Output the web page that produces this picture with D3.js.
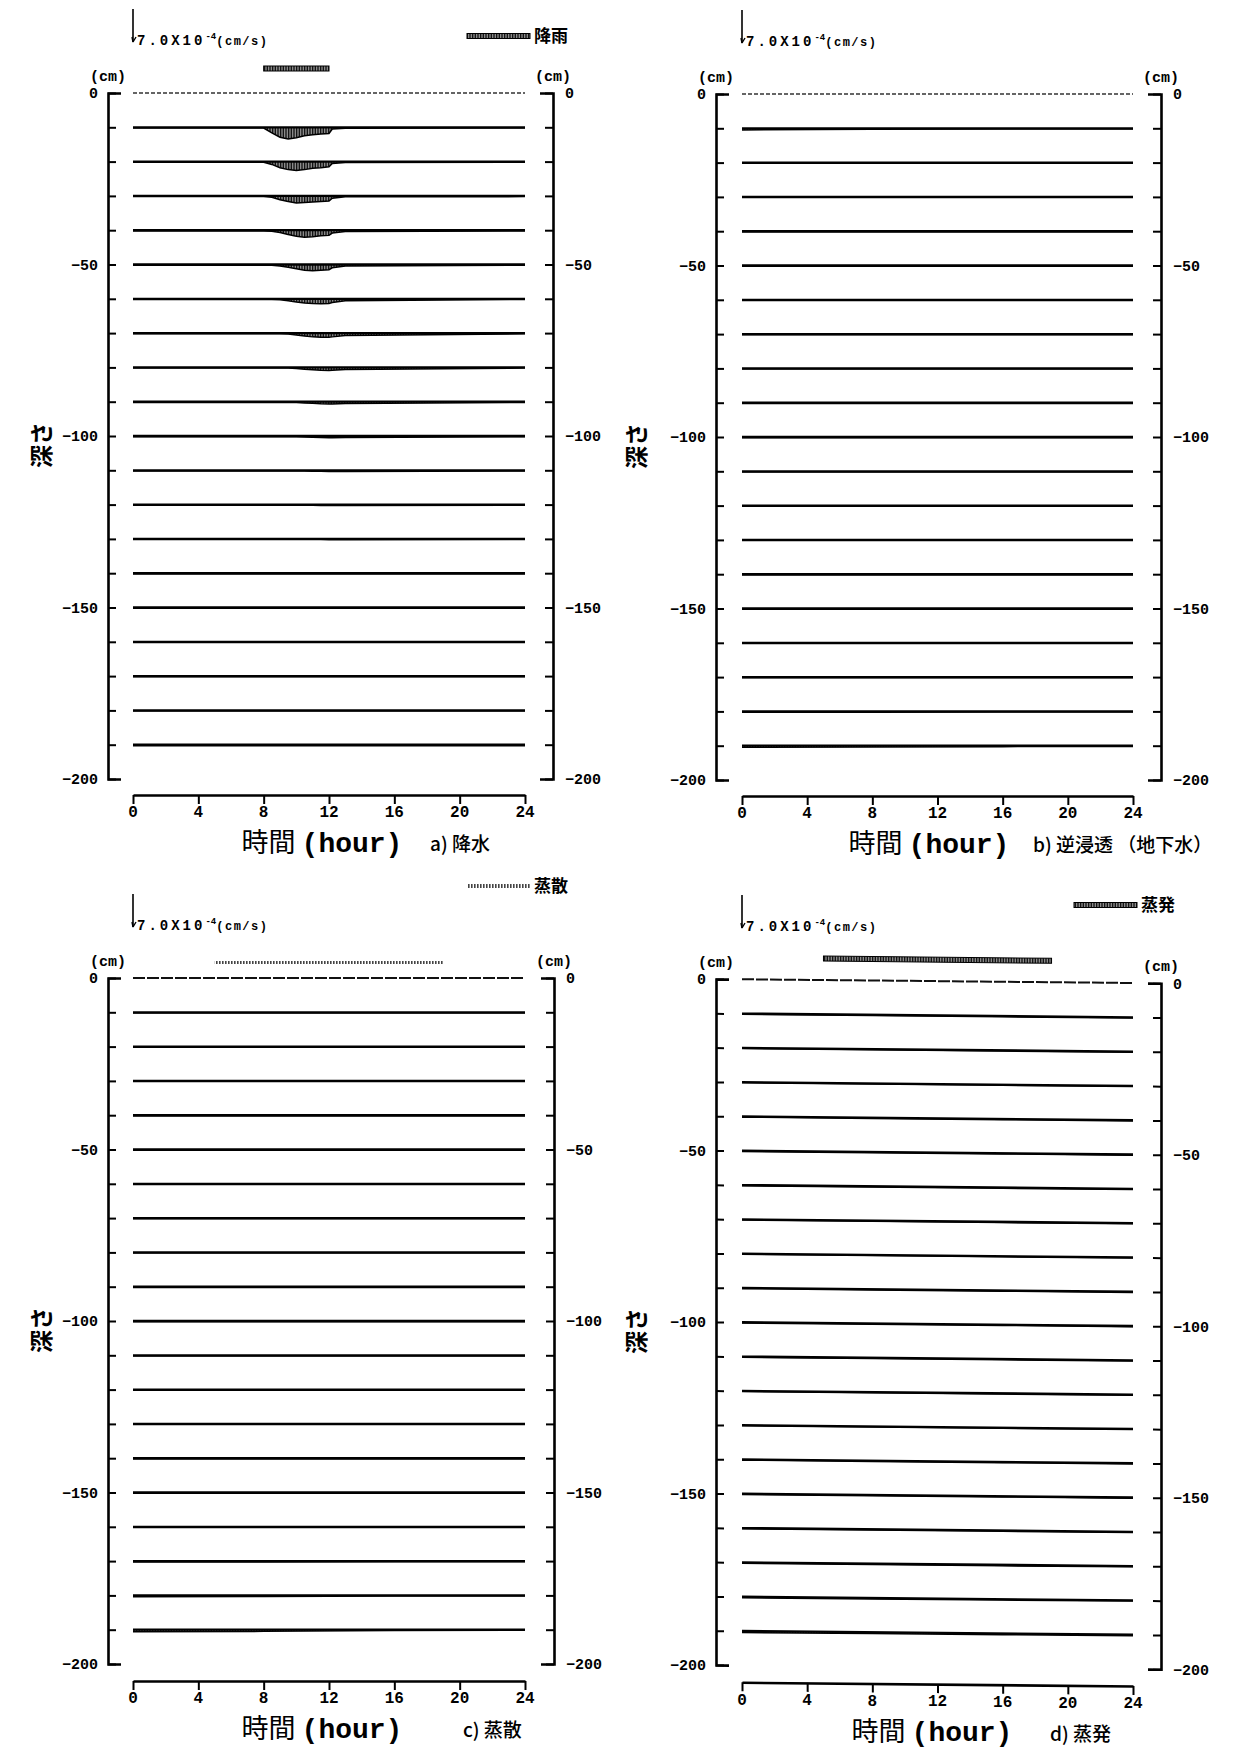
<!DOCTYPE html>
<html><head><meta charset="utf-8">
<script src="https://cdn.jsdelivr.net/npm/d3@7"></script>
<style>
body{margin:0;background:#fff;}
svg{display:block;}
</style></head><body>
<svg id="c" width="1233" height="1751"></svg>
<script>
// ---------------- data ----------------
const hourTicks = [0, 4, 8, 12, 16, 20, 24];
const depthLabels = [0, -50, -100, -150, -200];
const depthTicks = [0,-10,-20,-30,-40,-50,-60,-70,-80,-90,-100,-110,-120,-130,-140,-150,-160,-170,-180,-190,-200];
const depths = [-10,-20,-30,-40,-50,-60,-70,-80,-90,-100,-110,-120,-130,-140,-150,-160,-170,-180,-190];
const arrowScaleValue = 7.0; // ×10^-4 cm/s

// a) 降水 : vertical flux (×10^-4 cm/s) at each depth
const timesA = [0, 8, 8.5, 9, 9.5, 10, 10.5, 11, 11.5, 12, 12.2, 13, 24];
const fluxA = [
  [0.15,0.15,1.2,2.1,2.5,2.2,1.8,1.6,1.4,1.3,0.35,0.2,0.15],
  [0.15,0.15,0.6,1.3,1.7,1.9,1.7,1.4,1.3,1.1,0.4,0.2,0.15],
  [0.15,0.15,0.3,0.8,1.2,1.5,1.4,1.3,1.2,1.1,0.5,0.2,0.15],
  [0.15,0.15,0.2,0.5,0.9,1.3,1.5,1.4,1.2,1.1,0.6,0.3,0.15],
  [0.15,0.15,0.15,0.3,0.6,0.9,1.2,1.3,1.2,1.1,0.7,0.3,0.15],
  [0.15,0.15,0.15,0.2,0.4,0.7,0.9,1.0,1.05,1.0,0.8,0.4,0.15],
  [0.15,0.15,0.15,0.15,0.2,0.4,0.6,0.8,0.9,0.9,0.8,0.5,0.15],
  [0.15,0.15,0.15,0.15,0.15,0.25,0.4,0.5,0.6,0.65,0.6,0.45,0.15],
  [0.15,0.15,0.15,0.15,0.15,0.15,0.25,0.35,0.45,0.5,0.5,0.4,0.15],
  [0.15,0.15,0.15,0.15,0.15,0.15,0.2,0.25,0.3,0.35,0.35,0.3,0.15],
  [0.15,0.15,0.15,0.15,0.15,0.15,0.15,0.2,0.22,0.25,0.25,0.25,0.15],
  [0.15,0.15,0.15,0.15,0.15,0.15,0.15,0.15,0.18,0.2,0.2,0.2,0.15],
  [0.15,0.15,0.15,0.15,0.15,0.15,0.15,0.15,0.15,0.18,0.18,0.18,0.15],
  [0.15,0.15,0.15,0.15,0.15,0.15,0.15,0.15,0.15,0.15,0.15,0.15,0.15],
  [0.15,0.15,0.15,0.15,0.15,0.15,0.15,0.15,0.15,0.15,0.15,0.15,0.15],
  [0.15,0.15,0.15,0.15,0.15,0.15,0.15,0.15,0.15,0.15,0.15,0.15,0.15],
  [0.15,0.15,0.15,0.15,0.15,0.15,0.15,0.15,0.15,0.15,0.15,0.15,0.15],
  [0.15,0.15,0.15,0.15,0.15,0.15,0.15,0.15,0.15,0.15,0.15,0.15,0.15],
  [0.2,0.2,0.2,0.2,0.2,0.2,0.2,0.2,0.2,0.2,0.2,0.2,0.2]
];

// b) 逆浸透（地下水）, c) 蒸散, d) 蒸発
const timesBCD = [0, 8, 16, 24];
const fluxB = [
  [0.35,0.2,0.15,0.15],[0.15,0.15,0.15,0.15],[0.15,0.15,0.15,0.15],[0.15,0.15,0.15,0.15],
  [0.15,0.15,0.15,0.15],[0.15,0.15,0.15,0.15],[0.15,0.15,0.15,0.15],[0.15,0.15,0.15,0.15],
  [0.15,0.15,0.15,0.15],[0.15,0.15,0.15,0.15],[0.15,0.15,0.15,0.15],[0.15,0.15,0.15,0.15],
  [0.15,0.15,0.15,0.15],[0.15,0.15,0.15,0.15],[0.15,0.15,0.15,0.15],[0.15,0.15,0.15,0.15],
  [0.15,0.15,0.15,0.15],[0.2,0.2,0.15,0.15],[0.35,0.25,0.2,0.15]
];
const fluxC = [
  [0.15,0.15,0.15,0.15],[0.15,0.15,0.15,0.15],[0.15,0.15,0.15,0.15],[0.15,0.15,0.15,0.15],
  [0.15,0.15,0.15,0.15],[0.15,0.15,0.15,0.15],[0.15,0.15,0.15,0.15],[0.15,0.15,0.15,0.15],
  [0.15,0.15,0.15,0.15],[0.15,0.15,0.15,0.15],[0.15,0.15,0.15,0.15],[0.15,0.15,0.15,0.15],
  [0.15,0.15,0.15,0.15],[0.15,0.15,0.15,0.15],[0.15,0.15,0.15,0.15],[0.15,0.15,0.15,0.15],
  [0.2,0.2,0.15,0.15],[0.3,0.25,0.15,0.15],[0.45,0.35,0.15,0.1]
];
const fluxD = [
  [0.15,0.15,0.15,0.15],[0.15,0.15,0.15,0.15],[0.15,0.15,0.15,0.15],[0.15,0.15,0.15,0.15],
  [0.15,0.15,0.15,0.15],[0.15,0.15,0.15,0.15],[0.15,0.15,0.15,0.15],[0.15,0.15,0.15,0.15],
  [0.15,0.15,0.15,0.15],[0.15,0.15,0.15,0.15],[0.15,0.15,0.15,0.15],[0.15,0.15,0.15,0.15],
  [0.15,0.15,0.15,0.15],[0.15,0.15,0.15,0.15],[0.15,0.15,0.15,0.15],[0.15,0.15,0.15,0.15],
  [0.2,0.2,0.2,0.15],[0.25,0.25,0.2,0.15],[0.35,0.3,0.25,0.2]
];

// surface forcing periods (hours)
const rainPeriod = [8, 12];
const transpPeriod = [5, 19];
const evapPeriod = [5, 19];

// ---------------- drawing ----------------
const MONO = "'Liberation Mono','DejaVu Sans Mono',monospace";
const CJK = "'Noto Sans CJK JP','Noto Sans',sans-serif";
const svg = d3.select("#c");

const defs = svg.append("defs");
defs.append("pattern").attr("id","stip").attr("width",1.6).attr("height",2)
  .attr("patternUnits","userSpaceOnUse")
  .append("rect").attr("width",1.1).attr("height",2).attr("fill","#000");
defs.append("pattern").attr("id","stipLight").attr("width",3).attr("height",2)
  .attr("patternUnits","userSpaceOnUse")
  .append("rect").attr("width",1.6).attr("height",2).attr("fill","#444");
defs.append("clipPath").attr("id","clipD").append("rect")
  .attr("x",0).attr("y",0).attr("width",1212).attr("height",1751);

const fluxLen = d3.scaleLinear().domain([0, arrowScaleValue]).range([0, 33]);

const panels = [
  {x0:133, x1:525, lx:108, rx:553, yTop:93, yBot:779, xAxisY:795, times:timesA, flux:fluxA,
   zero:'dot', bar:rainPeriod, barDY:-27, barH:5, barFill:'url(#stip)', barStroke:'#000',
   legend:{text:'降雨', xa:467, xb:530, y:36, h:5, fill:'url(#stip)', stroke:'#000'},
   title:'a) 降水', titleX:430, titleC:322, ylabX:42, skew:0, clip:false},
  {x0:742, x1:1133, lx:716, rx:1161, yTop:94, yBot:780, xAxisY:796, times:timesBCD, flux:fluxB,
   zero:'dot', bar:null, legend:null,
   title:'b) 逆浸透 （地下水）', titleX:1033, titleC:929, ylabX:637, skew:0, clip:false},
  {x0:133, x1:525, lx:108, rx:554, yTop:978, yBot:1664, xAxisY:1681, times:timesBCD, flux:fluxC,
   zero:'dash', bar:transpPeriod, barDY:-17, barH:3, barFill:'url(#stipLight)', barStroke:'none',
   legend:{text:'蒸散', xa:467, xb:530, y:886, h:4, fill:'url(#stipLight)', stroke:'none'},
   title:'c) 蒸散', titleX:463, titleC:322, ylabX:42, skew:0, clip:false},
  {x0:742, x1:1133, lx:716, rx:1161, yTop:979, yBot:1665, xAxisY:1682, times:timesBCD, flux:fluxD,
   zero:'dash', bar:evapPeriod, barDY:-24, barH:5, barFill:'url(#stip)', barStroke:'#000',
   legend:{text:'蒸発', xa:1074, xb:1137, y:905, h:5, fill:'url(#stip)', stroke:'#000'},
   title:'d) 蒸発', titleX:1050, titleC:932, ylabX:637, skew:0.55, clip:true}
];

panels.forEach(p => {
  const x = d3.scaleLinear().domain([0, 24]).range([p.x0, p.x1]);
  const y = d3.scaleLinear().domain([0, -200]).range([p.yTop, p.yBot]);
  const tk = Math.tan(p.skew * Math.PI / 180);
  const sk = xp => (xp - p.lx) * tk;   // vertical offset of the scanned (tilted) panel

  const outer = svg.append("g");
  const g = outer.append("g")
    .attr("transform", p.skew ? `translate(${p.lx},0) skewY(${p.skew}) translate(${-p.lx},0)` : null);

  // depth 0 line
  g.append("line").attr("x1", x(0)).attr("x2", x(24)).attr("y1", y(0)).attr("y2", y(0))
    .attr("stroke", p.zero === 'dot' ? "#333" : "#111")
    .attr("stroke-width", p.zero === 'dot' ? 1.3 : 2)
    .attr("stroke-dasharray", p.zero === 'dot' ? "4,2" : "12,2");

  // flux lines at each depth
  depths.forEach((dep, i) => {
    const pts = p.times.map((t, k) => [t, p.flux[i][k]]);
    const area = d3.area().x(d => x(d[0])).y0(y(dep)).y1(d => y(dep) + fluxLen(d[1]));
    g.append("path").attr("d", area(pts)).attr("fill", "url(#stip)");
    const bottom = d3.line().x(d => x(d[0])).y(d => y(dep) + fluxLen(d[1]));
    g.append("path").attr("d", bottom(pts)).attr("fill", "none")
      .attr("stroke", "#000").attr("stroke-width", 1.5);
    g.append("line").attr("x1", x(0)).attr("x2", x(24)).attr("y1", y(dep)).attr("y2", y(dep))
      .attr("stroke", "#000").attr("stroke-width", 2.3);
  });

  // left y axis (ticks inward)
  const la = g.append("g").attr("transform", `translate(${p.lx},0)`)
    .call(d3.axisRight(y).tickValues(depthTicks).tickSize(8).tickSizeOuter(13).tickFormat(""));
  la.select(".domain").attr("stroke-width", 2.6);
  la.selectAll(".tick line").attr("stroke-width", 2);
  // right y axis
  const ra = g.append("g").attr("transform", `translate(${p.rx},0)`)
    .call(d3.axisLeft(y).tickValues(depthTicks).tickSize(8).tickSizeOuter(13).tickFormat(""));
  ra.select(".domain").attr("stroke-width", 2.6);
  ra.selectAll(".tick line").attr("stroke-width", 2);

  // x axis line + ticks (tilted with panel)
  const xa = g.append("g").attr("transform", `translate(0,${p.xAxisY})`)
    .call(d3.axisBottom(x).tickValues(hourTicks).tickSize(9).tickSizeOuter(0).tickFormat(""));
  xa.select(".domain").attr("stroke-width", 2.6);
  xa.selectAll(".tick line").attr("stroke-width", 2);

  // ---- texts (kept upright) ----
  const ll = outer.append("g").attr("transform", `translate(${p.lx},${sk(p.lx)})`)
    .call(d3.axisLeft(y).tickValues(depthLabels).tickSize(0).tickPadding(10));
  ll.select(".domain").remove();
  ll.selectAll("text").attr("font-family", MONO).attr("font-weight", "bold").attr("font-size", 15).attr("fill","#000");
  const rlHolder = outer.append("g").attr("clip-path", p.clip ? "url(#clipD)" : null);
  const rl = rlHolder.append("g").attr("transform", `translate(${p.rx},${sk(p.rx)})`)
    .call(d3.axisRight(y).tickValues(depthLabels).tickSize(0).tickPadding(12));
  rl.select(".domain").remove();
  rl.selectAll("text").attr("font-family", MONO).attr("font-weight", "bold").attr("font-size", 15).attr("fill","#000");

  const xl = outer.append("g").attr("transform", `translate(0,${p.xAxisY})`)
    .call(d3.axisBottom(x).tickValues(hourTicks).tickSize(0).tickPadding(11));
  xl.select(".domain").remove();
  xl.selectAll(".tick").attr("transform", d => `translate(${x(d)},${sk(x(d))})`);
  xl.selectAll("text").attr("font-family", MONO).attr("font-weight", "bold").attr("font-size", 16).attr("fill","#000");

  // (cm) labels
  [p.lx, p.rx].forEach(ax => {
    outer.append("text").attr("x", ax).attr("y", p.yTop - 12 + sk(ax)).attr("text-anchor", "middle")
      .attr("font-family", MONO).attr("font-weight", "bold").attr("font-size", 15).text("(cm)");
  });

  // surface forcing bar
  if (p.bar) {
    g.append("rect").attr("x", x(p.bar[0])).attr("width", x(p.bar[1]) - x(p.bar[0]))
      .attr("y", p.yTop + p.barDY).attr("height", p.barH)
      .attr("fill", p.barFill).attr("stroke", p.barStroke).attr("stroke-width", 1);
  }

  // scale arrow + label
  const ax0 = x(0), ayB = p.yTop - 51, ayT = ayB - fluxLen(arrowScaleValue);
  outer.append("line").attr("x1", ax0).attr("x2", ax0).attr("y1", ayT).attr("y2", ayB)
    .attr("stroke", "#000").attr("stroke-width", 1.6);
  outer.append("path").attr("d", `M${ax0},${ayB} l3,-5 M${ax0},${ayB} l-1,-5`)
    .attr("stroke", "#000").attr("stroke-width", 1.4).attr("fill","none");
  const at = outer.append("text").attr("x", ax0 + 4).attr("y", ayB + 3)
    .attr("font-family", MONO).attr("font-weight", "bold").attr("fill", "#000");
  at.append("tspan").attr("font-size", 14).attr("letter-spacing", 3).text("7.0X10");
  at.append("tspan").attr("font-size", 9).attr("dy", -6).text("-4");
  at.append("tspan").attr("font-size", 12).attr("dy", 6).attr("letter-spacing", 1.5).text("(cm/s)");

  // legend
  if (p.legend) {
    const L = p.legend;
    outer.append("rect").attr("x", L.xa).attr("width", L.xb - L.xa).attr("y", L.y - L.h / 2).attr("height", L.h)
      .attr("fill", L.fill).attr("stroke", L.stroke).attr("stroke-width", 1);
    outer.append("text").attr("x", L.xb + 4).attr("y", L.y + 6)
      .attr("font-family", CJK).attr("font-weight", "bold").attr("font-size", 17).text(L.text);
  }

  // y title
  outer.append("text").attr("transform", `translate(${p.ylabX},${p.yTop + 352}) rotate(-90)`)
    .attr("text-anchor", "middle").attr("dy", "0.35em")
    .attr("font-family", CJK).attr("font-weight", "bold").attr("font-size", 23).text("深さ");

  // x title
  const xt = outer.append("text").attr("x", p.titleC).attr("y", p.xAxisY + 57 + sk(p.titleC)).attr("text-anchor", "middle");
  xt.append("tspan").attr("font-family", CJK).attr("font-size", 27).text("時間");
  xt.append("tspan").attr("font-family", MONO).attr("font-weight", "bold").attr("font-size", 28).attr("dx", 6).text("(hour)");
  outer.append("text").attr("x", p.titleX).attr("y", p.xAxisY + 56 + sk(p.titleX))
    .attr("font-family", CJK).attr("font-weight", "500").attr("font-size", 19).text(p.title);
});
</script>
</body></html>
